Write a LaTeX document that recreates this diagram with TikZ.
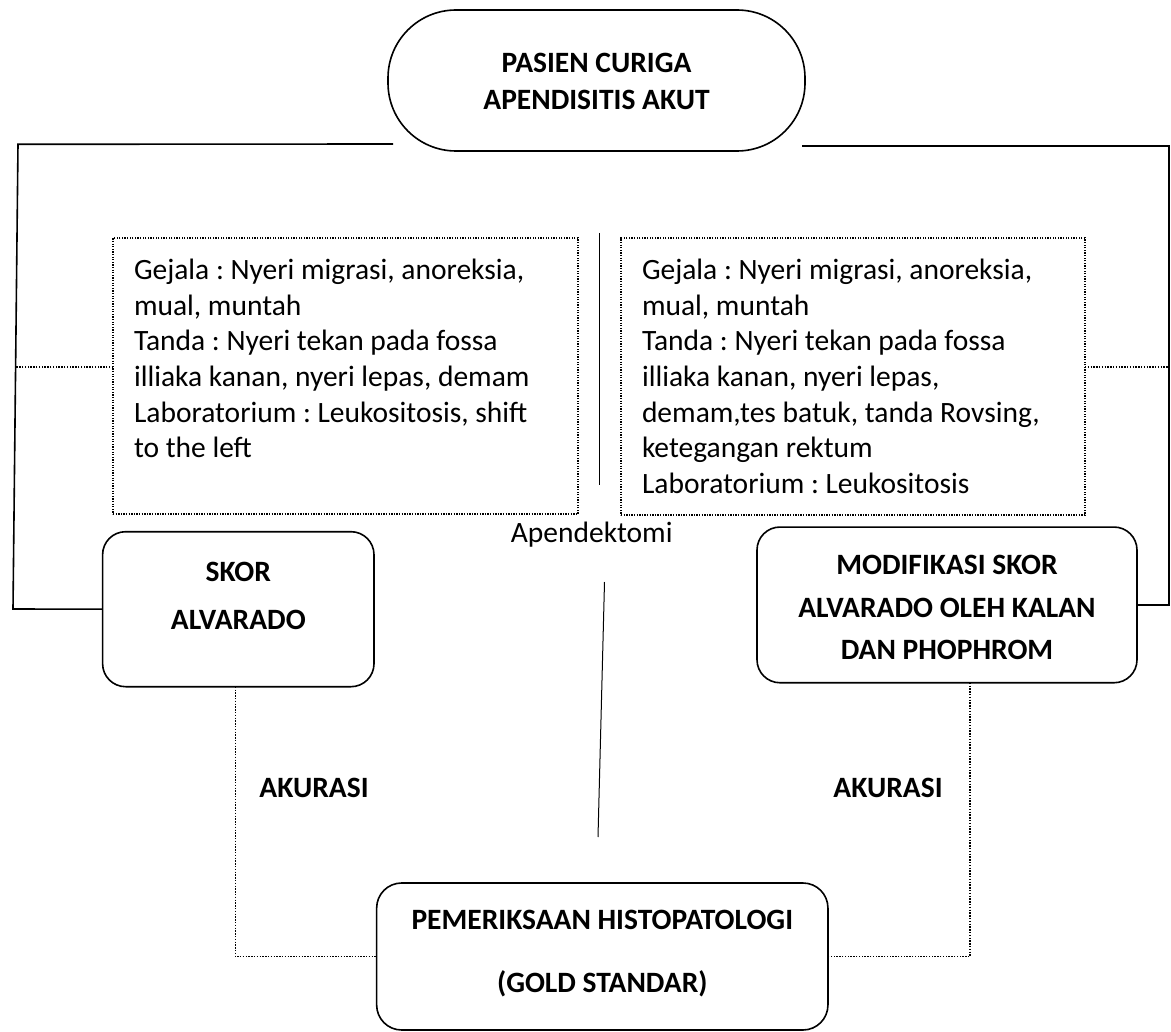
\documentclass[tikz,border=0pt]{standalone}
\usepackage{fontspec}
\setmainfont{Carlito}
\frenchspacing
\newcommand{\ctext}[5]{\parbox[c][#2][t]{#1}{\centering\fontsize{29.5pt}{#4}\selectfont\bfseries\rule{0pt}{#3}#5}}
\newcommand{\ltext}[4]{\parbox[c][#2][t]{#1}{\raggedright\fontsize{29.5pt}{35.7pt}\selectfont\rule{0pt}{#3}#4}}
\begin{document}
\begin{tikzpicture}[x=1pt,y=-1pt,
  bx/.style={draw, line width=1.6pt, inner sep=0pt, outer sep=0pt},
  dotbox/.style={draw, line width=1.3pt, dash pattern=on 1.3pt off 1.3pt, inner xsep=21pt, inner ysep=0pt, outer sep=0pt},
  conn/.style={line width=1.6pt},
  dots/.style={line width=1.4pt, dash pattern=on 1.4pt off 1.4pt},
  midline/.style={line width=1pt},
  lbl/.style={font=\fontsize{29.5pt}{34pt}\selectfont, inner sep=0pt, anchor=base},
  blbl/.style={font=\fontsize{29.5pt}{34pt}\selectfont\bfseries, inner sep=0pt, anchor=base}]
\useasboundingbox (0,0) rectangle (1171,1032);

\node[bx, rounded corners=68pt] (top) at (596.5,80.5)
  {\ctext{417pt}{141pt}{62.5pt}{37pt}{PASIEN CURIGA\\APENDISITIS AKUT}};

\node[dotbox] (lbox) at (345.5,376)
  {\ltext{423pt}{276pt}{41.5pt}{Gejala : Nyeri migrasi, anoreksia,\\mual, muntah\\Tanda : Nyeri tekan pada fossa\\illiaka kanan, nyeri lepas, demam\\Laboratorium : Leukositosis, shift\\to the left}};

\node[dotbox] (rbox) at (853,376.5)
  {\ltext{422pt}{277pt}{41.5pt}{Gejala : Nyeri migrasi, anoreksia,\\mual, muntah\\Tanda : Nyeri tekan pada fossa\\illiaka kanan, nyeri lepas,\\demam,tes batuk, tanda Rovsing,\\ketegangan rektum\\Laboratorium : Leukositosis}};

\node[bx, rounded corners=23pt] (skor) at (238.3,609.2)
  {\ctext{271.4pt}{155pt}{49.8pt}{48pt}{SKOR\\ALVARADO}};

\node[bx, rounded corners=23pt] (mod) at (947,604.9)
  {\ctext{380pt}{155.7pt}{47.5pt}{42.5pt}{MODIFIKASI SKOR\\ALVARADO OLEH KALAN\\DAN PHOPHROM}};

\node[bx, rounded corners=25pt] (bot) at (602.3,956.5)
  {\ctext{451.3pt}{147pt}{46.5pt}{63pt}{PEMERIKSAAN HISTOPATOLOGI\\(GOLD STANDAR)}};

\node[lbl] (apd) at (591.7,542.5) {Apendektomi};
\node[blbl] (akl) at (314,797.5) {AKURASI};
\node[blbl] (akr) at (888,797.5) {AKURASI};

% solid connectors
\draw[conn] ([xshift=5pt,yshift=7pt]top.south west) -- (18,144.3) -- (13,609) -- (skor.west);
\draw[conn] ([xshift=-3pt,yshift=5pt]top.south east) -- (1169,146) |- (mod.east);

% dotted connectors
\draw[dots] ([yshift=9pt]lbox.west) -- (16,367);
\draw[dots] ([yshift=9.5pt]rbox.east) -- (1169,367);
\draw[dots] ([xshift=-3pt]skor.south) |- (bot.west);
\draw[dots] ([xshift=23pt]mod.south) |- (bot.east);

% centre line
\coordinate (m1) at (599,233);
\coordinate (m2) at (599,485);
\coordinate (m3) at (604.5,582);
\coordinate (m4) at (598,837);
\draw[midline] (m1) -- (m2);
\draw[midline] (m3) -- (m4);
\end{tikzpicture}
\end{document}
